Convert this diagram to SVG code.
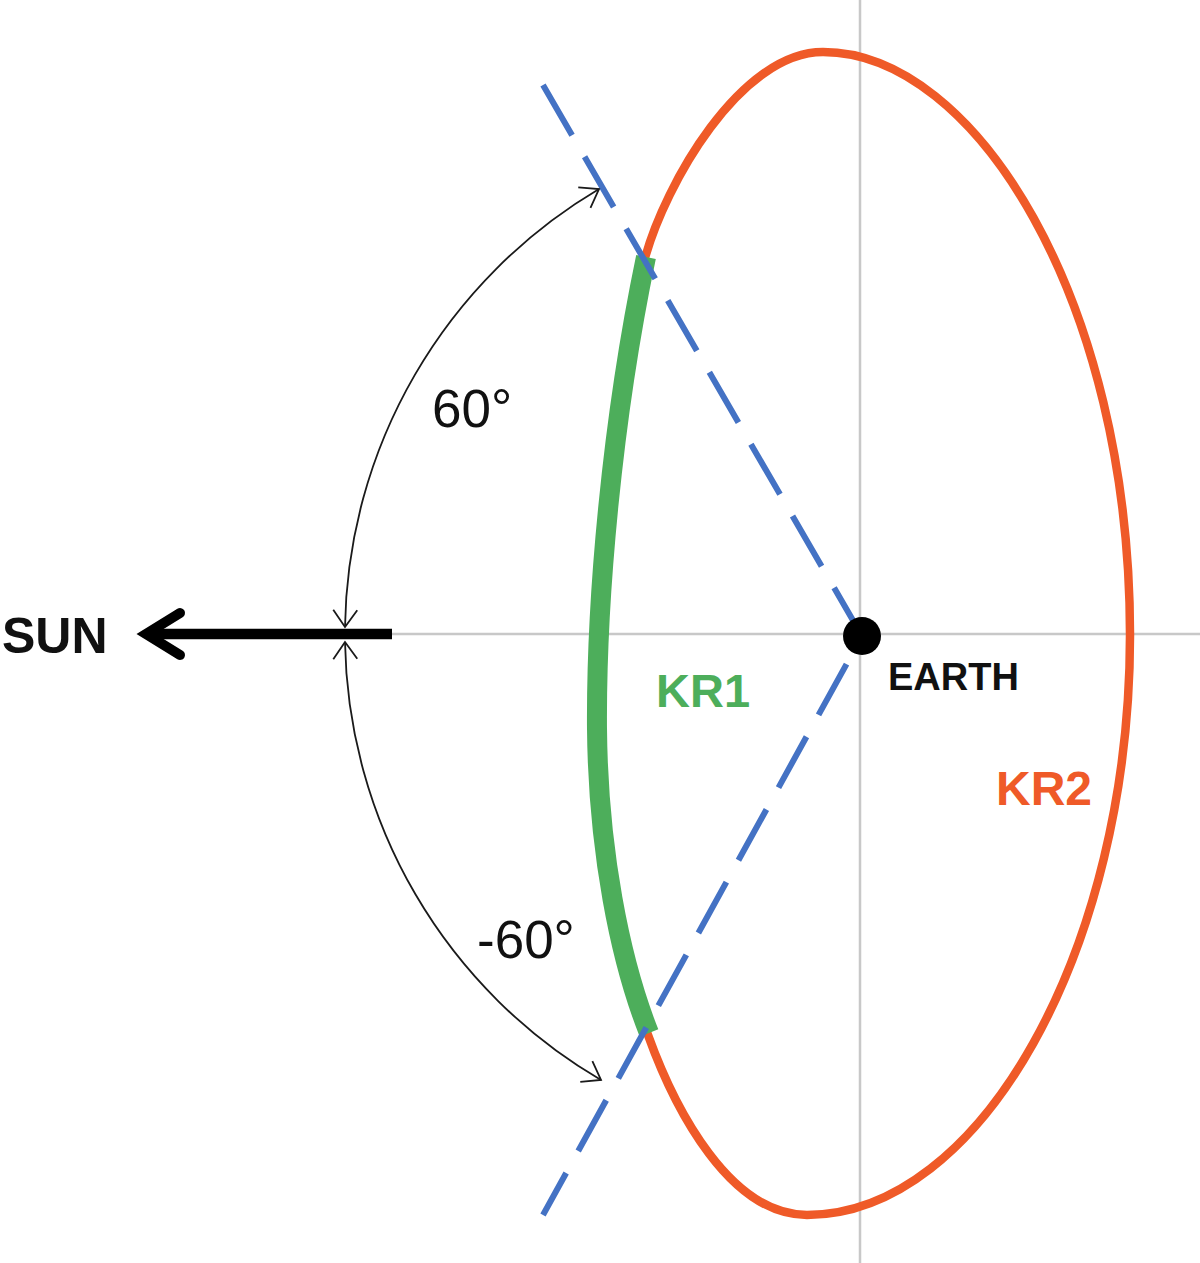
<svg xmlns="http://www.w3.org/2000/svg" width="1200" height="1263" viewBox="0 0 1200 1263">
<style>
.axis{stroke:#c8c8c8;stroke-width:2.5;fill:none}
.dash{stroke:#4472c4;stroke-width:6;fill:none;stroke-dasharray:58 25}
.arc{stroke:#1a1a1a;stroke-width:1.8;fill:none}
.lbl{font-family:"Liberation Sans",Arial,sans-serif}
</style>
<defs>
<marker id="vhead" markerUnits="userSpaceOnUse" markerWidth="40" markerHeight="40" refX="0" refY="0" viewBox="-20 -20 40 40" orient="auto-start-reverse" overflow="visible">
<path d="M-17,-12 L0,0 L-17,12" fill="none" stroke="#1a1a1a" stroke-width="1.8"/>
</marker>
</defs>
<rect width="1200" height="1263" fill="#ffffff"/>
<g id="axes">
<line class="axis" x1="392" y1="634" x2="1200" y2="634"/>
<line class="axis" x1="860" y1="0" x2="860" y2="1263"/>
</g>
<g id="kr2">
<path d="M823,52 C975,52 1130,300 1130,635 C1130,950 980,1215 807,1215 C730,1215 675,1110 648,1035 C620,960 598,850 597,729 C596,600 612,420 645,258 C665,185 740,52 823,52 Z" fill="none" stroke="#ef5a28" stroke-width="8.5"/>
<text class="lbl" x="996" y="805" font-size="48" font-weight="bold" fill="#ef5a28">KR2</text>
</g>
<g id="kr1">
<path d="M597,730 C596,600 612,420 646,257" fill="none" stroke="#4dae5b" stroke-width="20"/>
<path d="M597,728 C598,850 620,960 649,1033" fill="none" stroke="#4dae5b" stroke-width="20"/>
<text class="lbl" x="656" y="707" font-size="47" font-weight="bold" fill="#4dae5b">KR1</text>
</g>
<g id="connectors">
<line class="dash" x1="543" y1="85" x2="862" y2="636"/>
<line class="dash" x1="543" y1="1215" x2="862" y2="636" style="stroke-dashoffset:10"/>
<path class="arc" d="M345,627 A518,518 0 0 1 599,189" marker-start="url(#vhead)" marker-end="url(#vhead)"/>
<path class="arc" d="M345,642 A517,517 0 0 0 601,1080" marker-start="url(#vhead)" marker-end="url(#vhead)"/>
<line x1="392" y1="634" x2="150" y2="634" stroke="#000" stroke-width="10.5"/>
<polyline points="180,613 146,634 180,655" fill="none" stroke="#000" stroke-width="10" stroke-linecap="round" stroke-linejoin="miter"/>
</g>
<g id="earth">
<circle cx="862" cy="636" r="19" fill="#000"/>
<text class="lbl" x="888" y="690" font-size="38" font-weight="bold" fill="#111">EARTH</text>
</g>
<g id="sun">
<text class="lbl" x="2" y="653" font-size="50" font-weight="bold" fill="#111">SUN</text>
</g>
<g id="angles">
<text class="lbl" x="432" y="427" font-size="53" fill="#111">60°</text>
<text class="lbl" x="477" y="958" font-size="53" fill="#111">-60°</text>
</g>
</svg>
